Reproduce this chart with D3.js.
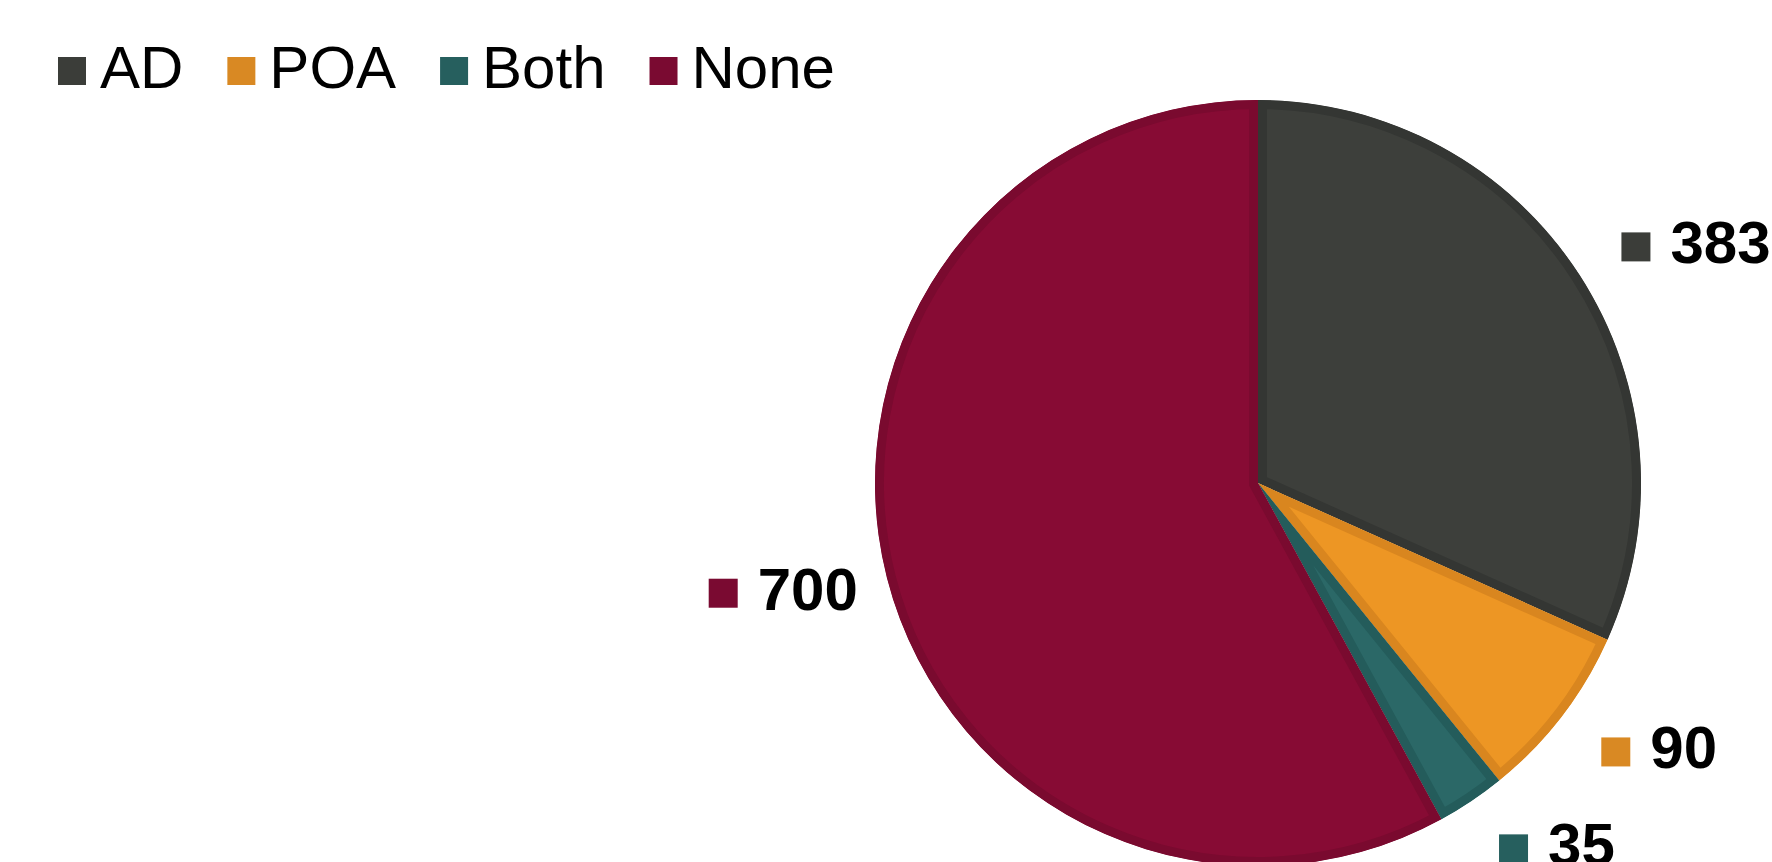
<!DOCTYPE html>
<html>
<head>
<meta charset="utf-8">
<script src="https://cdn.jsdelivr.net/npm/d3@7"></script>
<style>
  html, body { margin: 0; padding: 0; background: #ffffff; }
  svg { display: block; }
</style>
</head>
<body>
<svg id="chart" width="1772" height="862"></svg>
<script>
const categories = ["AD", "POA", "Both", "None"];
const values = [383, 90, 35, 700];
const fillColors = ["#3d3f3b", "#ed9624", "#2b6867", "#870b34"];
const borderColors = ["#343633", "#d9861f", "#245c5b", "#7a0a2f"];
const swatchColors = ["#3b3d39", "#d98923", "#265f5e", "#7a0a31"];

const W = 1772, H = 862;
const svg = d3.select("#chart");
const cx = 1258, cy = 483, R = 383;

const pie = d3.pie().sort(null).value(d => d.value).startAngle(0).endAngle(2 * Math.PI);
const data = categories.map((c, i) => ({ cat: c, value: values[i], i }));
const arcs = pie(data);
const arc = d3.arc().innerRadius(0).outerRadius(R);

const defs = svg.append("defs");
const g = svg.append("g").attr("transform", `translate(${cx},${cy})`);

arcs.forEach((a, k) => {
  const id = "clip" + k;
  defs.append("clipPath").attr("id", id).append("path").attr("d", arc(a));
  g.append("path")
    .attr("d", arc(a))
    .attr("fill", fillColors[a.data.i])
    .attr("stroke", borderColors[a.data.i])
    .attr("stroke-width", 18)
    .attr("stroke-linejoin", "miter")
    .attr("clip-path", `url(#${id})`);
});

// Data labels (outside end)
const labelFont = 60;
const sq = 29, sqGap = 20;
const lg = svg.append("g");
arcs.forEach(a => {
  const mid = (a.startAngle + a.endAngle) / 2;
  const dx = Math.sin(mid), dy = -Math.cos(mid);
  const grp = lg.append("g");
  const txt = grp.append("text")
    .attr("font-family", "'Liberation Sans', Arial, Helvetica, sans-serif")
    .attr("font-weight", "bold")
    .attr("font-size", labelFont)
    .attr("fill", "#000")
    .text(d3.format("d")(a.data.value));
  const tw = txt.node().getComputedTextLength();
  const totalW = sq + sqGap + tw;
  const hw = totalW / 2, hh = 22;
  const gx = dx >= 0 ? 50 : 30;
  const bx = cx + dx * (R + gx) + Math.sign(dx) * hw;
  const by = cy + dy * (R + 33 + hh);
  const left = bx - hw;
  grp.insert("rect", "text")
    .attr("x", left).attr("y", by - sq / 2 + 2)
    .attr("width", sq).attr("height", sq)
    .attr("fill", swatchColors[a.data.i]);
  txt.attr("x", left + sq + sqGap).attr("y", by + labelFont * 0.716 / 2 - 3);
});

// Legend
const legFont = 60;
const leg = svg.append("g");
let x = 58;
categories.forEach((c, i) => {
  leg.append("rect").attr("x", x).attr("y", 57).attr("width", 28).attr("height", 28)
    .attr("fill", swatchColors[i]);
  const t = leg.append("text")
    .attr("x", x + 28 + 14).attr("y", 88)
    .attr("font-family", "'Liberation Sans', Arial, Helvetica, sans-serif")
    .attr("font-size", legFont)
    .attr("fill", "#000")
    .text(c);
  x += 28 + 14 + t.node().getComputedTextLength() + 44;
});
</script>
</body>
</html>
